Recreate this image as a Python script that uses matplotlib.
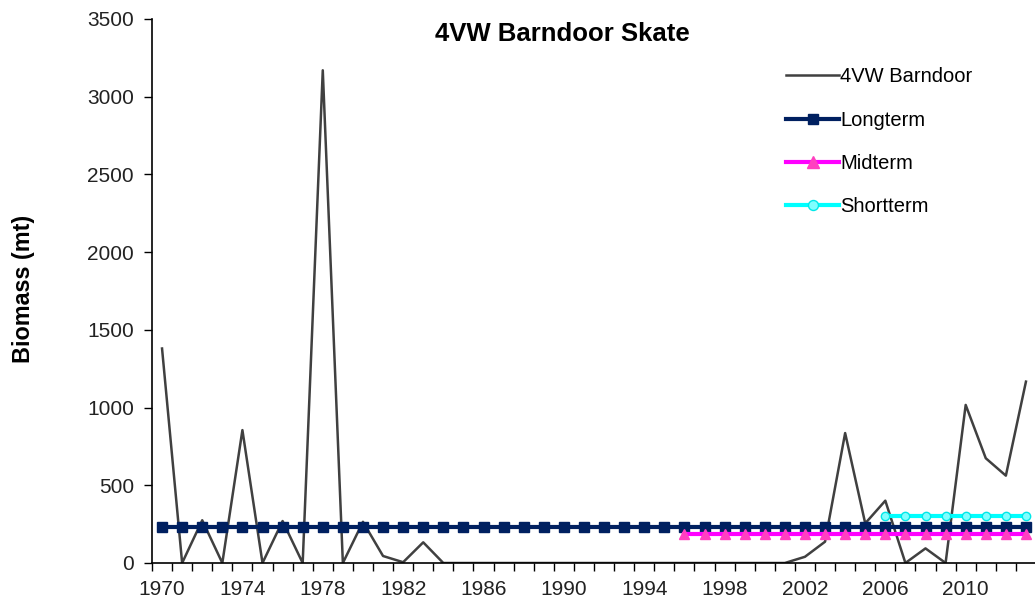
import matplotlib.pyplot as plt
import numpy as np

plt.rcParams['font.family'] = ['Liberation Sans', 'DejaVu Sans']

# biomass values
years = list(range(1970, 2014))
barndoor = [1380, 0, 275, 0, 855, 0, 270, 0, 3170, 0,
            265, 45, 5, 133, 0, 0, 0, 0, 0, 0,
            0, 0, 0, 0, 0, 0, 0, 0, 0, 0,
            0, 0, 40, 137, 836, 255, 401, 0, 94, 0,
            1017, 674, 562, 1167]

longterm_years = years
longterm = [234] * len(longterm_years)
midterm_years = list(range(1996, 2014))
midterm = [187] * len(midterm_years)
shortterm_years = list(range(2006, 2014))
shortterm = [304] * len(shortterm_years)

fig = plt.figure(figsize=(10.35, 6.02), dpi=100)
ax = fig.add_axes([152 / 1035, 1 - 563 / 602, 884 / 1035, 544 / 602])

ax.plot(years, barndoor, color='#404040', lw=1.8, label='4VW Barndoor')
ax.plot(longterm_years, longterm, color='#002060', lw=3, marker='s', ms=6.5,
        label='Longterm')
ax.plot(midterm_years, midterm, color='#FF00FF', lw=3, marker='^', ms=7,
        mfc='#FF40C0', mec='#FF40C0', label='Midterm')
ax.plot(shortterm_years, shortterm, color='#00FFFF', lw=3, marker='o', ms=6,
        mfc='#80FFFF', mec='#00E8E8', label='Shortterm')

ax.set_xlim(1969.5, 2013.5)
ax.set_ylim(0, 3500)
ax.set_yticks(np.arange(0, 3501, 500))
ax.set_xticks(np.arange(1970, 2014, 4))
ax.set_xticks(np.arange(1969.5, 2014, 1), minor=True)
ax.tick_params(axis='x', which='major', length=0, pad=12, labelsize=15,
               labelcolor='#222222')
ax.tick_params(axis='x', which='minor', length=6, width=1, direction='out')
ax.tick_params(axis='y', length=6, width=1, direction='out', labelsize=15,
               labelcolor='#222222', pad=7)

for s in ['top', 'right']:
    ax.spines[s].set_visible(False)
ax.spines['left'].set_linewidth(1.2)
ax.spines['bottom'].set_linewidth(1.2)

fig.text(562 / 1035, 1 - 41 / 602, '4VW Barndoor Skate', fontsize=18.5,
         fontweight='bold', ha='center', va='baseline')
fig.text(24 / 1035, 1 - 288.5 / 602, 'Biomass (mt)', fontsize=16.8,
         fontweight='bold', rotation=90, ha='center', va='center')

ax.legend(loc='upper left', bbox_to_anchor=(0.717, 0.911), frameon=False,
          fontsize=14.5, handlelength=2.65, handletextpad=0.05,
          labelspacing=1.2, borderpad=0, borderaxespad=0, numpoints=1,
          markerscale=1.2)

plt.savefig('out.png', dpi=100)
